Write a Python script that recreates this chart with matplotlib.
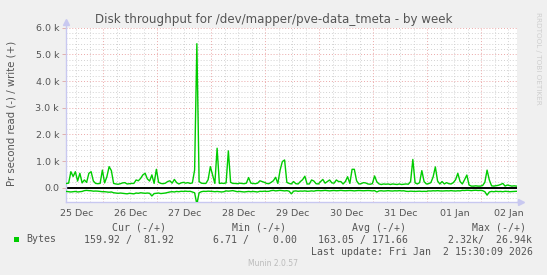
import matplotlib
matplotlib.use('Agg')
import matplotlib.pyplot as plt
import matplotlib.dates as mdates
import matplotlib.patches as mpatches
import numpy as np
import pandas as pd

# ---------------- data ----------------
series_start = '2025-12-25 07:30'
step = '1h'
view_start = '2025-12-25 07:20'
view_end = '2026-01-02 15:48'

write_bytes = [160, 170, 600, 420, 600, 250, 540, 180, 290, 200,
               540, 600, 250, 160, 150, 160, 660, 180, 410, 790,
               640, 160, 140, 130, 150, 180, 190, 140, 150, 160,
               160, 290, 260, 350, 480, 540, 330, 250, 480, 160,
               690, 200, 160, 150, 170, 230, 260, 170, 310, 190,
               140, 180, 200, 170, 190, 160, 180, 660, 5400, 230,
               170, 160, 160, 300, 790, 480, 160, 1480, 160, 170,
               160, 180, 1380, 200, 160, 160, 150, 170, 160, 150,
               170, 380, 170, 160, 150, 170, 260, 230, 200, 160,
               150, 200, 260, 390, 160, 660, 980, 1040, 200, 160,
               140, 230, 150, 140, 230, 300, 430, 140, 140, 290,
               250, 150, 140, 230, 310, 170, 230, 290, 180, 170,
               290, 230, 230, 140, 230, 410, 160, 690, 690, 260,
               140, 150, 190, 180, 140, 130, 150, 440, 220, 140,
               120, 140, 130, 140, 120, 140, 130, 120, 140, 120,
               130, 140, 130, 230, 1060, 180, 140, 190, 640, 230,
               140, 150, 190, 400, 780, 250, 140, 230, 140, 190,
               150, 140, 190, 300, 540, 230, 140, 300, 475, 100,
               60, 60, 70, 60, 60, 80, 200, 660, 290, 70,
               60, 75, 90, 120, 160, 60, 100, 80, 60, 70,
               60]

read_bytes = [140, 150, 160, 150, 140, 160, 150, 140, 110, 100,
              110, 115, 130, 125, 130, 140, 150, 150, 160, 170,
              160, 190, 200, 210, 200, 210, 220, 230, 210, 220,
              230, 200, 210, 190, 200, 210, 200, 210, 310, 220,
              210, 200, 220, 210, 200, 180, 160, 150, 160, 140,
              150, 135, 140, 130, 140, 135, 160, 190, 620, 190,
              150, 135, 140, 130, 135, 140, 150, 140, 150, 160,
              150, 120, 130, 120, 110, 130, 150, 140, 150, 160,
              150, 140, 150, 140, 150, 160, 135, 140, 130, 140,
              135, 110, 100, 120, 110, 100, 110, 120, 110, 130,
              230, 130, 120, 135, 125, 130, 120, 135, 130, 120,
              130, 110, 105, 115, 110, 100, 110, 120, 110, 105,
              115, 110, 100, 110, 115, 110, 105, 110, 120, 110,
              105, 110, 115, 110, 105, 110, 120, 110, 160, 120,
              115, 125, 120, 110, 120, 125, 115, 120, 110, 120,
              115, 135, 140, 130, 135, 140, 135, 130, 140, 135,
              140, 120, 125, 115, 120, 110, 120, 125, 120, 115,
              120, 110, 120, 125, 115, 120, 100, 105, 95, 100,
              110, 100, 95, 105, 100, 110, 150, 280, 160, 140,
              150, 135, 145, 140, 150, 135, 140, 150, 145, 140,
              135]

y_ticks = [0, 1000, 2000, 3000, 4000, 5000, 6000]
y_tick_labels = ['0.0', '1.0 k', '2.0 k', '3.0 k', '4.0 k', '5.0 k', '6.0 k']
y_limits = (-525, 6000)

title = 'Disk throughput for /dev/mapper/pve-data_tmeta - by week'
y_label = 'Pr second read (-) / write (+)'
legend_name = 'Bytes'
col_heads = ['Cur (-/+)', 'Min (-/+)', 'Avg (-/+)', 'Max (-/+)']
col_values = ['159.92 /  81.92', '6.71 /    0.00', '163.05 / 171.66', '2.32k/  26.94k']
last_update = 'Last update: Fri Jan  2 15:30:09 2026'
munin_ver = 'Munin 2.0.57'
side_text = 'RRDTOOL / TOBI OETIKER'

# ---------------- figure ----------------
W, H = 547, 275
fig = plt.figure(figsize=(W / 100, H / 100), dpi=100, facecolor='#F0F0F0')


def fx(x):
    return x / W


def fy(y):
    return 1 - y / H


left, right, top, bottom = 66, 517, 27.7, 201.7
ax = fig.add_axes([fx(left), fy(bottom), (right - left) / W, (bottom - top) / H])
ax.set_facecolor('white')

x0 = pd.Timestamp(view_start)
x1 = pd.Timestamp(view_end)
ax.set_xlim(x0, x1)
ax.set_ylim(*y_limits)

# grid
grid_minor = '#D2D2D2'
grid_major = '#EBA8A8'
for yv in np.arange(-400, y_limits[1] + 1, 200):
    major = (yv % 1000 == 0)
    ax.axhline(yv, color=grid_major if major else grid_minor, lw=0.7,
               ls=(0, (1, 2)), zorder=1)
for tv in pd.date_range(x0.ceil('6h'), x1, freq='6h'):
    major = tv.hour == 0
    ax.axvline(tv, color=grid_major if major else grid_minor, lw=0.7,
               ls=(0, (1, 2)), zorder=1)

times_w = pd.date_range(series_start, periods=len(write_bytes), freq=step)
times_r = pd.date_range(series_start, periods=len(read_bytes), freq=step)
green = '#00CC00'
ax.axhline(0, color='black', lw=1.4, zorder=2)
ax.plot(times_w, np.array(write_bytes), color=green, lw=1.0, zorder=3)
ax.plot(times_r, -np.array(read_bytes), color=green, lw=1.0, zorder=3)

# axes styling
for s in ['top', 'right']:
    ax.spines[s].set_visible(False)
axis_col = '#C8C8F0'
ax.spines['left'].set_color(axis_col)
ax.spines['bottom'].set_color(axis_col)
ax.spines['left'].set_linewidth(1.0)
ax.spines['bottom'].set_linewidth(1.0)
ax.plot([0, 0], [1.0, 1.025], color=axis_col, lw=1, transform=ax.transAxes, clip_on=False)
ax.plot([0], [1.03], marker='^', ms=4, color=axis_col, transform=ax.transAxes, clip_on=False)
ax.plot([1.0, 1.006], [0, 0], color=axis_col, lw=1, transform=ax.transAxes, clip_on=False)
ax.plot([1.009], [0], marker='>', ms=4, color=axis_col, transform=ax.transAxes, clip_on=False)

text_col = '#555555'
ax.set_yticks(y_ticks)
ax.set_yticklabels(y_tick_labels)
ax.tick_params(axis='y', length=3, width=0.7, color='#E0B0B0', labelsize=6.8,
               labelcolor=text_col, pad=2)
ax.xaxis.set_major_locator(mdates.HourLocator(byhour=12))
ax.xaxis.set_major_formatter(mdates.DateFormatter('%d %b'))
ax.tick_params(axis='x', length=0, labelsize=6.8, labelcolor=text_col, pad=5)

# texts
fig.text(fx(274), fy(20), title, ha='center', va='center', fontsize=8.6, color=text_col)
fig.text(fx(12), fy(113), y_label, ha='center', va='center', rotation=90,
         fontsize=7.3, color=text_col)
fig.text(fx(538), fy(58), side_text, ha='center', va='center', rotation=-90,
         fontsize=5.2, color='#CFCFCF')

mono = dict(family='DejaVu Sans Mono', fontsize=7.1, color=text_col, va='center')
head_x = [111.5, 231.7, 352, 472]
for hx, h in zip(head_x, col_heads):
    fig.text(fx(hx), fy(228), h, ha='left', **mono)
val_x = [83.6, 213, 318, 448]
for vx, v in zip(val_x, col_values):
    fig.text(fx(vx), fy(239.5), v, ha='left', **mono)
fig.text(fx(26), fy(239.5), legend_name, ha='left', **mono)
fig.patches.append(mpatches.Rectangle((fx(14), fy(242)), 5 / W, 5 / H,
                                      transform=fig.transFigure, facecolor=green,
                                      edgecolor='none'))
fig.text(fx(311), fy(251.7), last_update, ha='left', **mono)
fig.text(fx(272.5), fy(264), munin_ver, ha='center', va='center', fontsize=5.5,
         color='#BBBBBB')

fig.savefig('out.png', dpi=100, facecolor=fig.get_facecolor())
